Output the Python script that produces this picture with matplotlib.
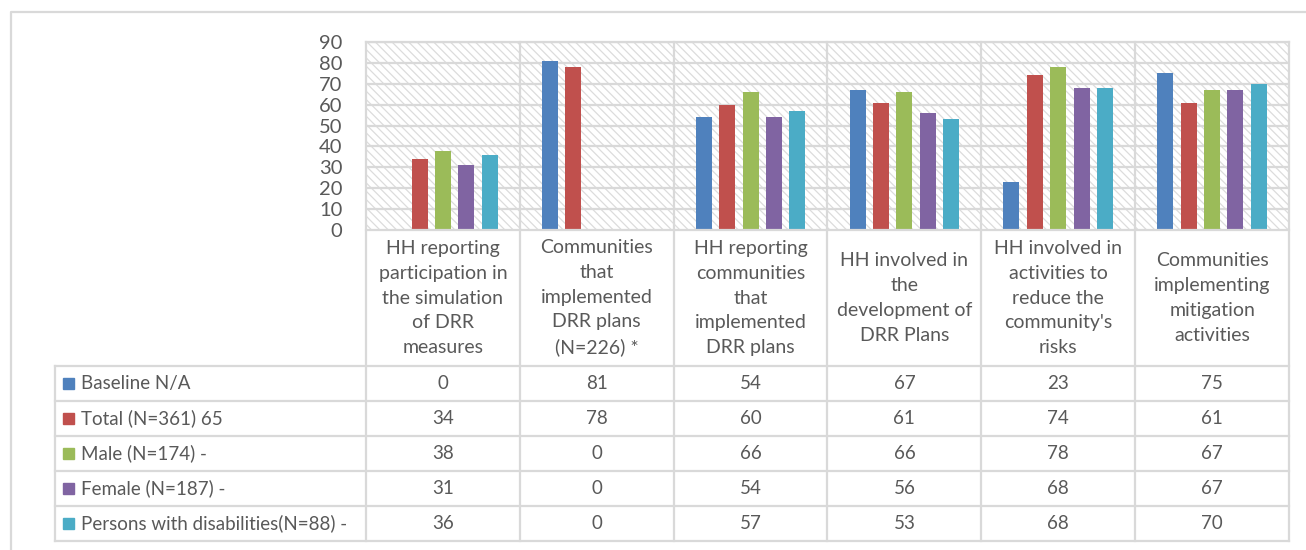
# Gráfico de barras con tabla de datos (estilo Excel)
import numpy as np
import matplotlib.pyplot as plt
from matplotlib.patches import Rectangle
from matplotlib import transforms

# Datos
categorias = [
    "HH reporting\nparticipation in\nthe simulation\nof DRR\nmeasures",
    "Communities\nthat\nimplemented\nDRR plans\n(N=226) *",
    "HH reporting\ncommunities\nthat\nimplemented\nDRR plans",
    "HH involved in\nthe\ndevelopment of\nDRR Plans",
    "HH involved in\nactivities to\nreduce the\ncommunity's\nrisks",
    "Communities\nimplementing\nmitigation\nactivities",
]
series = [
    "Baseline N/A",
    "Total (N=361) 65",
    "Male (N=174) -",
    "Female (N=187) -",
    "Persons with disabilities(N=88) -",
]
baseline = [0, 81, 54, 67, 23, 75]
total = [34, 78, 60, 61, 74, 61]
male = [38, 0, 66, 66, 78, 67]
female = [31, 0, 54, 56, 68, 67]
discapacidad = [36, 0, 57, 53, 68, 70]
valores = [baseline, total, male, female, discapacidad]
colores = ['#4F81BD', '#C0504D', '#9BBB59', '#8064A2', '#4BACC6']

W, H = 1306, 550
gris = '#d9d9d9'
texto = '#595959'
plt.rcParams['font.family'] = ['Lato', 'DejaVu Sans']
plt.rcParams['hatch.linewidth'] = 0.9

fig = plt.figure(figsize=(W / 100, H / 100), dpi=100)

# Ejes principales (en píxeles: x 366-1289, y 42-230)
x0, x1, y0, y1 = 366, 1289, 42, 230
ax = fig.add_axes([x0 / W, 1 - y1 / H, (x1 - x0) / W, (y1 - y0) / H])
ax.set_xlim(-0.5, len(categorias) - 0.5)
ax.set_ylim(0, 90)

# Fondo rayado
ax.add_patch(Rectangle((0, 0), 1, 1, transform=ax.transAxes, facecolor='white',
                       edgecolor='#dcdcdc', hatch='\\\\\\\\', linewidth=0, zorder=0))

x = np.arange(len(categorias))
paso = 0.152
ancho = 0.104
for i, (vals, col) in enumerate(zip(valores, colores)):
    ax.bar(x + (i - 2) * paso, vals, width=ancho, color=col, zorder=3)

ax.set_yticks(range(0, 100, 10))
ax.tick_params(axis='y', length=0, pad=17, labelsize=14.5, labelcolor=texto)
ax.set_xticks([])
for y in range(10, 100, 10):
    ax.axhline(y, color=gris, lw=1.6, zorder=1)
for s in ax.spines.values():
    s.set_visible(False)

# Capa superior en píxeles para la tabla
ov = fig.add_axes([0, 0, 1, 1])
ov.set_xlim(0, W)
ov.set_ylim(H, 0)
ov.axis('off')
mix = transforms.blended_transform_factory(ax.transData, ov.transData)

# Marco exterior
ov.plot([11, 11, W], [H, 12, 12], color=gris, lw=1.6)

# Líneas de la tabla
filas_y = [366, 401, 436, 471, 506, 541]
for yy in filas_y:
    ov.plot([55, x1], [yy, yy], color=gris, lw=1.6)
ov.plot([x0, x1], [y1, y1], color=gris, lw=1.6)
ov.plot([x0, x1], [y0, y0], color=gris, lw=1.6)
ov.plot([55, 55], [366, 541], color=gris, lw=1.6)
for b in np.arange(len(categorias) + 1) - 0.5:
    ov.plot([b, b], [y0, 541], color=gris, lw=1.6, transform=mix)

# Etiquetas de categoría
for i, c in enumerate(categorias):
    ov.text(i, 298, c, transform=mix, ha='center', va='center', fontsize=14,
            color=texto, linespacing=1.55)

# Filas con leyenda y valores
for r, (nombre, vals, col) in enumerate(zip(series, valores, colores)):
    yc = (filas_y[r] + filas_y[r + 1]) / 2
    ov.add_patch(Rectangle((63, yc - 5.5), 11, 11, color=col))
    ov.text(81, yc, nombre, ha='left', va='center', fontsize=13.5, color=texto)
    for i, v in enumerate(vals):
        ov.text(i, yc, str(v), transform=mix, ha='center', va='center',
                fontsize=13.5, color=texto)

fig.savefig('out.png', dpi=100)
